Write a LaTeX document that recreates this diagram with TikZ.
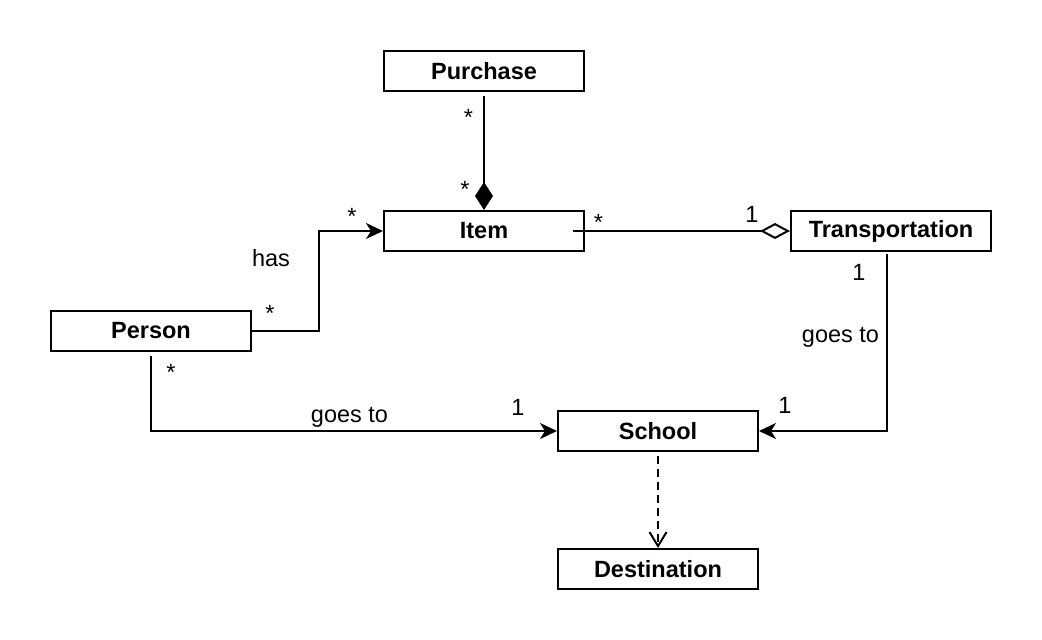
\documentclass[tikz,border=0pt]{standalone}
\usepackage{fontspec}
\setmainfont{Liberation Sans}
\usetikzlibrary{arrows.meta}

\begin{document}
\begin{tikzpicture}[x=1pt, y=-1pt, line width=2pt,
	cls/.style={draw, minimum width=200pt, minimum height=40pt, inner sep=0pt, font=\fontsize{23.5}{28}\selectfont\bfseries},
	lbl/.style={anchor=base, inner sep=0pt, font=\fontsize{23.5}{28}\selectfont},
	assoc/.style={-{Stealth[length=17pt, width=16pt, inset=5pt]}},
	compos/.style={-{Diamond[length=28pt, width=18pt]}},
	aggreg/.style={-{Diamond[open, length=30pt, width=16pt]}},
	realize/.style={dash pattern=on 8pt off 5pt, -{Straight Barb[length=14pt, width=17pt]}}]
			%%%%% START %%%%%
			
			\useasboundingbox (0, 0) rectangle (1042, 640);
			
			\node[cls] (purchase) at (484, 71) {Purchase};
			\node[cls] (item) at (484, 231) {Item};
			\node[cls] (transport) at (891, 231) {Transportation};
			\node[cls] (person) at (151, 331) {Person};
			\node[cls] (school) at (658, 431) {School};
			\node[cls] (destination) at (658, 569) {Destination};
			
			\draw[compos, shorten <=4pt] (purchase.south) -- (item.north);
			\draw[aggreg] ([xshift=-12pt]item.east) -- (transport.west);
			\draw[assoc] (person.east) -- ++(67, 0) |- (item.west);
			\draw[assoc, shorten <=4pt] (person.south) |- (school.west);
			\draw[assoc, shorten <=2pt] ([xshift=-4pt]transport.south) |- (school.east);
			\draw[realize, shorten <=4pt] (school.south) -- (destination.north);
			
			\node[lbl] (mPurTop) at (468.5, 125) {*};
			\node[lbl] (mPurItem) at (465, 197) {*};
			\node[lbl] (mItemRight) at (598.5, 230) {*};
			\node[lbl] (mTrLeft) at (752, 222) {1};
			\node[lbl] (mTrBottom) at (859, 280) {1};
			\node[lbl] (goesTr) at (840.5, 342) {goes to};
			\node[lbl] (mSchRight) at (785, 413) {1};
			\node[lbl] (has) at (271, 266) {has};
			\node[lbl] (mPerRight) at (270, 321) {*};
			\node[lbl] (mItemLeft) at (352, 224.5) {*};
			\node[lbl] (mPerBottom) at (171, 380.5) {*};
			\node[lbl] (goesPer) at (349.5, 422) {goes to};
			\node[lbl] (mSchLeft) at (518, 415) {1};
			
			%%%%% END %%%%%
\end{tikzpicture}
\end{document}
